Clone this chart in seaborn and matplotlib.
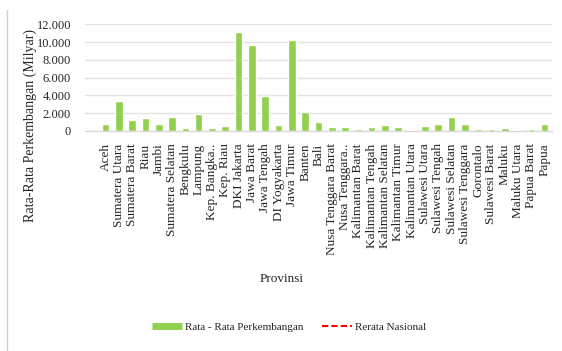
import matplotlib
matplotlib.use("Agg")
import matplotlib.pyplot as plt
from matplotlib.lines import Line2D
from matplotlib.ticker import FuncFormatter
import seaborn as sns
import pandas as pd

provinsi = [
    "Aceh", "Sumatera Utara", "Sumatera Barat", "Riau", "Jambi",
    "Sumatera Selatan", "Bengkulu", "Lampung", "Kep. Bangka..", "Kep. Riau",
    "DKI Jakarta", "Jawa Barat", "Jawa Tengah", "DI Yogyakarta", "Jawa Timur",
    "Banten", "Bali", "Nusa Tenggara Barat", "Nusa Tenggara..", "Kalimantan Barat",
    "Kalimantan Tengah", "Kalimantan Selatan", "Kalimantan Timur", "Kalimantan Utara",
    "Sulawesi Utara", "Sulawesi Tengah", "Sulawesi Selatan", "Sulawesi Tenggara",
    "Gorontalo", "Sulawesi Barat", "Maluku", "Maluku Utara", "Papua Barat", "Papua",
]
rata_perkembangan = [
    750, 3340, 1240, 1420, 820,
    1575, 340, 1875, 340, 600,
    11175, 9640, 3975, 675, 10240,
    2175, 975, 410, 410, 260,
    450, 640, 410, 110,
    560, 790, 1575, 750,
    260, 260, 340, 110, 260, 820,
]
y_ticks = [0, 2000, 4000, 6000, 8000, 10000, 12000]

df = pd.DataFrame({"Provinsi": provinsi, "Nilai": rata_perkembangan})

sns.set_theme(style="white")
plt.rcParams["font.family"] = ["Liberation Serif", "DejaVu Serif"]

GREEN = "#92d050"
TEXT = "#262626"

fig = plt.figure(figsize=(5.62, 3.51), dpi=100)
ax = fig.add_axes([85 / 562, 1 - 131 / 351, (552 - 85) / 562, (131 - 24.3) / 351])

sns.barplot(data=df, x="Provinsi", y="Nilai", color=GREEN, saturation=1,
            width=0.57, ax=ax, zorder=3)

ax.set_xlim(-1.54, 33.55)
ax.set_ylim(0, 12000)
ax.set_yticks(y_ticks)
ax.yaxis.set_major_formatter(FuncFormatter(lambda v, p: f"{int(v):,}".replace(",", ".")))
ax.grid(axis="y", color="#e3e3e3", linewidth=1.0, zorder=0)
ax.grid(axis="x", visible=False)
for side in ["top", "right", "left"]:
    ax.spines[side].set_visible(False)
ax.spines["bottom"].set_color("#d9d9d9")
ax.spines["bottom"].set_linewidth(1.0)

ax.tick_params(axis="x", length=0, pad=9, labelsize=9.5, labelcolor=TEXT, labelrotation=90)
ax.tick_params(axis="y", length=0, pad=10, labelsize=9, labelcolor=TEXT)
ax.set_xlabel("")
ax.set_ylabel("")

fig.text(30 / 562, 1 - 125 / 351, "Rata-Rata Perkembangan (Milyar)", rotation=90,
         ha="center", va="center", fontsize=10, color=TEXT)
fig.text(282 / 562, 1 - 279 / 351, "Provinsi", ha="center", va="center",
         fontsize=9.5, color=TEXT)

handles = [
    Line2D([], [], color=GREEN, linewidth=5, solid_capstyle="butt"),
    Line2D([], [], color="red", linewidth=1.5, linestyle=(0, (3, 1.5))),
]
fig.legend(handles, ["Rata - Rata Perkembangan", "Rerata Nasional"],
           loc="center", bbox_to_anchor=(289 / 562, 1 - 327 / 351), ncol=2,
           frameon=False, fontsize=8, handlelength=2.7, columnspacing=1.7,
           handletextpad=0.27, labelcolor=TEXT)

# thin frame line on the left edge of the figure
fig.add_artist(Line2D([7 / 562, 7 / 562], [0, 1 - 10 / 351], color="#d0d0d0",
                      linewidth=1, transform=fig.transFigure))

fig.savefig("out.png", dpi=100)
